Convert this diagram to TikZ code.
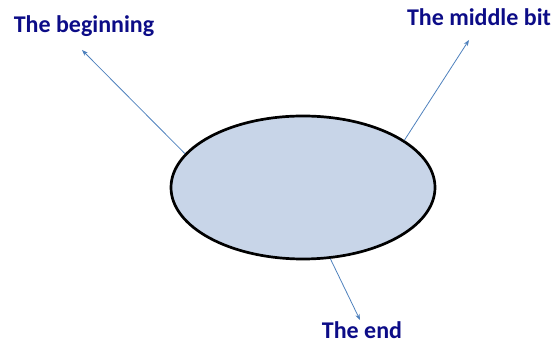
\documentclass[tikz,border=0pt]{standalone}
\usepackage{fontspec}
\setmainfont{Carlito}
\usetikzlibrary{shapes.geometric,arrows.meta}
\definecolor{ellfill}{RGB}{200,213,232}
\definecolor{labblue}{RGB}{12,12,135}
\definecolor{arrblue}{RGB}{79,129,189}
\tikzset{
  lab/.style={text=labblue, font=\fontsize{24}{28}\selectfont\bfseries, inner sep=0pt, anchor=base},
  conn/.style={draw=arrblue, line width=0.8pt, -{Stealth[length=6pt,width=4.5pt]}},
}
\begin{document}
\begin{tikzpicture}[x=1pt,y=1pt]
\useasboundingbox (0,0) rectangle (556,344);
\node[ellipse, draw=black, line width=2.7pt, fill=ellfill, minimum width=264pt, minimum height=143pt, inner sep=0pt] (ell) at (303,156.5) {};
\node[lab] (t1) at (84,311) {The beginning};
\node[lab] (t2) at (479,318) {The middle bit};
\node[lab] (t3) at (362,5.5) {The end};
\coordinate (e1) at (82,294);
\coordinate (e2) at (469,304);
\coordinate (e3) at (360,24);
\draw[conn] (ell.164) -- (e1);
\draw[conn] (ell.25) -- (e2);
\draw[conn] (ell.291) -- (e3);
\end{tikzpicture}
\end{document}
